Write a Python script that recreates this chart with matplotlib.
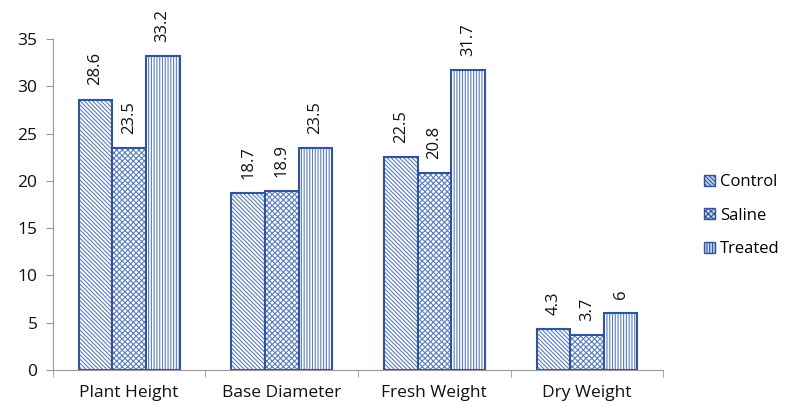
import matplotlib
matplotlib.use("Agg")
import matplotlib.pyplot as plt
import numpy as np
from matplotlib.patches import Patch

categories = ["Plant Height", "Base Diameter", "Fresh Weight", "Dry Weight"]
series_names = ["Control", "Saline", "Treated"]
control = [28.6, 18.7, 22.5, 4.3]
saline = [23.5, 18.9, 20.8, 3.7]
treated = [33.2, 23.5, 31.7, 6]
value_labels = [["28.6", "18.7", "22.5", "4.3"],
                ["23.5", "18.9", "20.8", "3.7"],
                ["33.2", "23.5", "31.7", "6"]]
y_ticks = [0, 5, 10, 15, 20, 25, 30, 35]

plt.rcParams["font.family"] = ["Open Sans", "DejaVu Sans"]
plt.rcParams["hatch.linewidth"] = 0.8

fig = plt.figure(figsize=(8.01, 4.03), dpi=100)
ax = fig.add_axes([0.066, 0.082, 0.762, 0.821])
ax.set_clip_on(False)

edge = "#2F5597"
hatch_col = "#5B7FBF"
hatches = ["\\\\\\\\\\\\\\\\", "xxxxxx", "||||||"]
x = np.arange(len(categories))
w = 0.22
for i, (name, vals) in enumerate(zip(series_names, [control, saline, treated])):
    pos = x + (i - 1) * w
    ax.bar(pos, vals, w, facecolor="white", edgecolor=hatch_col,
           hatch=hatches[i], linewidth=0, label=name)
    ax.bar(pos, vals, w, facecolor="none", edgecolor=edge, linewidth=1.5)
    for p, v, t in zip(pos, vals, value_labels[i]):
        ax.text(p, v + 1.5, t, rotation=90, ha="center", va="bottom",
                fontsize=12, color="#111111", clip_on=False)

ax.set_xlim(-0.5, len(categories) - 0.5)
ax.set_ylim(0, 35)
ax.set_yticks(y_ticks)
ax.set_xticks(x)
ax.set_xticklabels(categories, fontsize=12.5, color="#111111")
ax.set_xticks(np.arange(-0.5, len(categories)), minor=True)
ax.tick_params(axis="x", which="major", length=0, pad=11)
ax.tick_params(axis="x", which="minor", length=5, color="#999999")
ax.tick_params(axis="y", length=5, color="#999999", labelsize=12.5,
               labelcolor="#111111", pad=6)
for s in ["top", "right"]:
    ax.spines[s].set_visible(False)
for s in ["left", "bottom"]:
    ax.spines[s].set_color("#999999")

handles = [Patch(facecolor="#C9D6EE", edgecolor=edge, hatch=hatches[i], label=n)
           for i, n in enumerate(series_names)]
fig.legend(handles=handles, loc="center left", bbox_to_anchor=(0.86, 0.465),
           frameon=False, fontsize=12, handlelength=0.65, handleheight=0.65,
           handletextpad=0.3, labelspacing=1.05)

fig.savefig("out.png", dpi=100)
